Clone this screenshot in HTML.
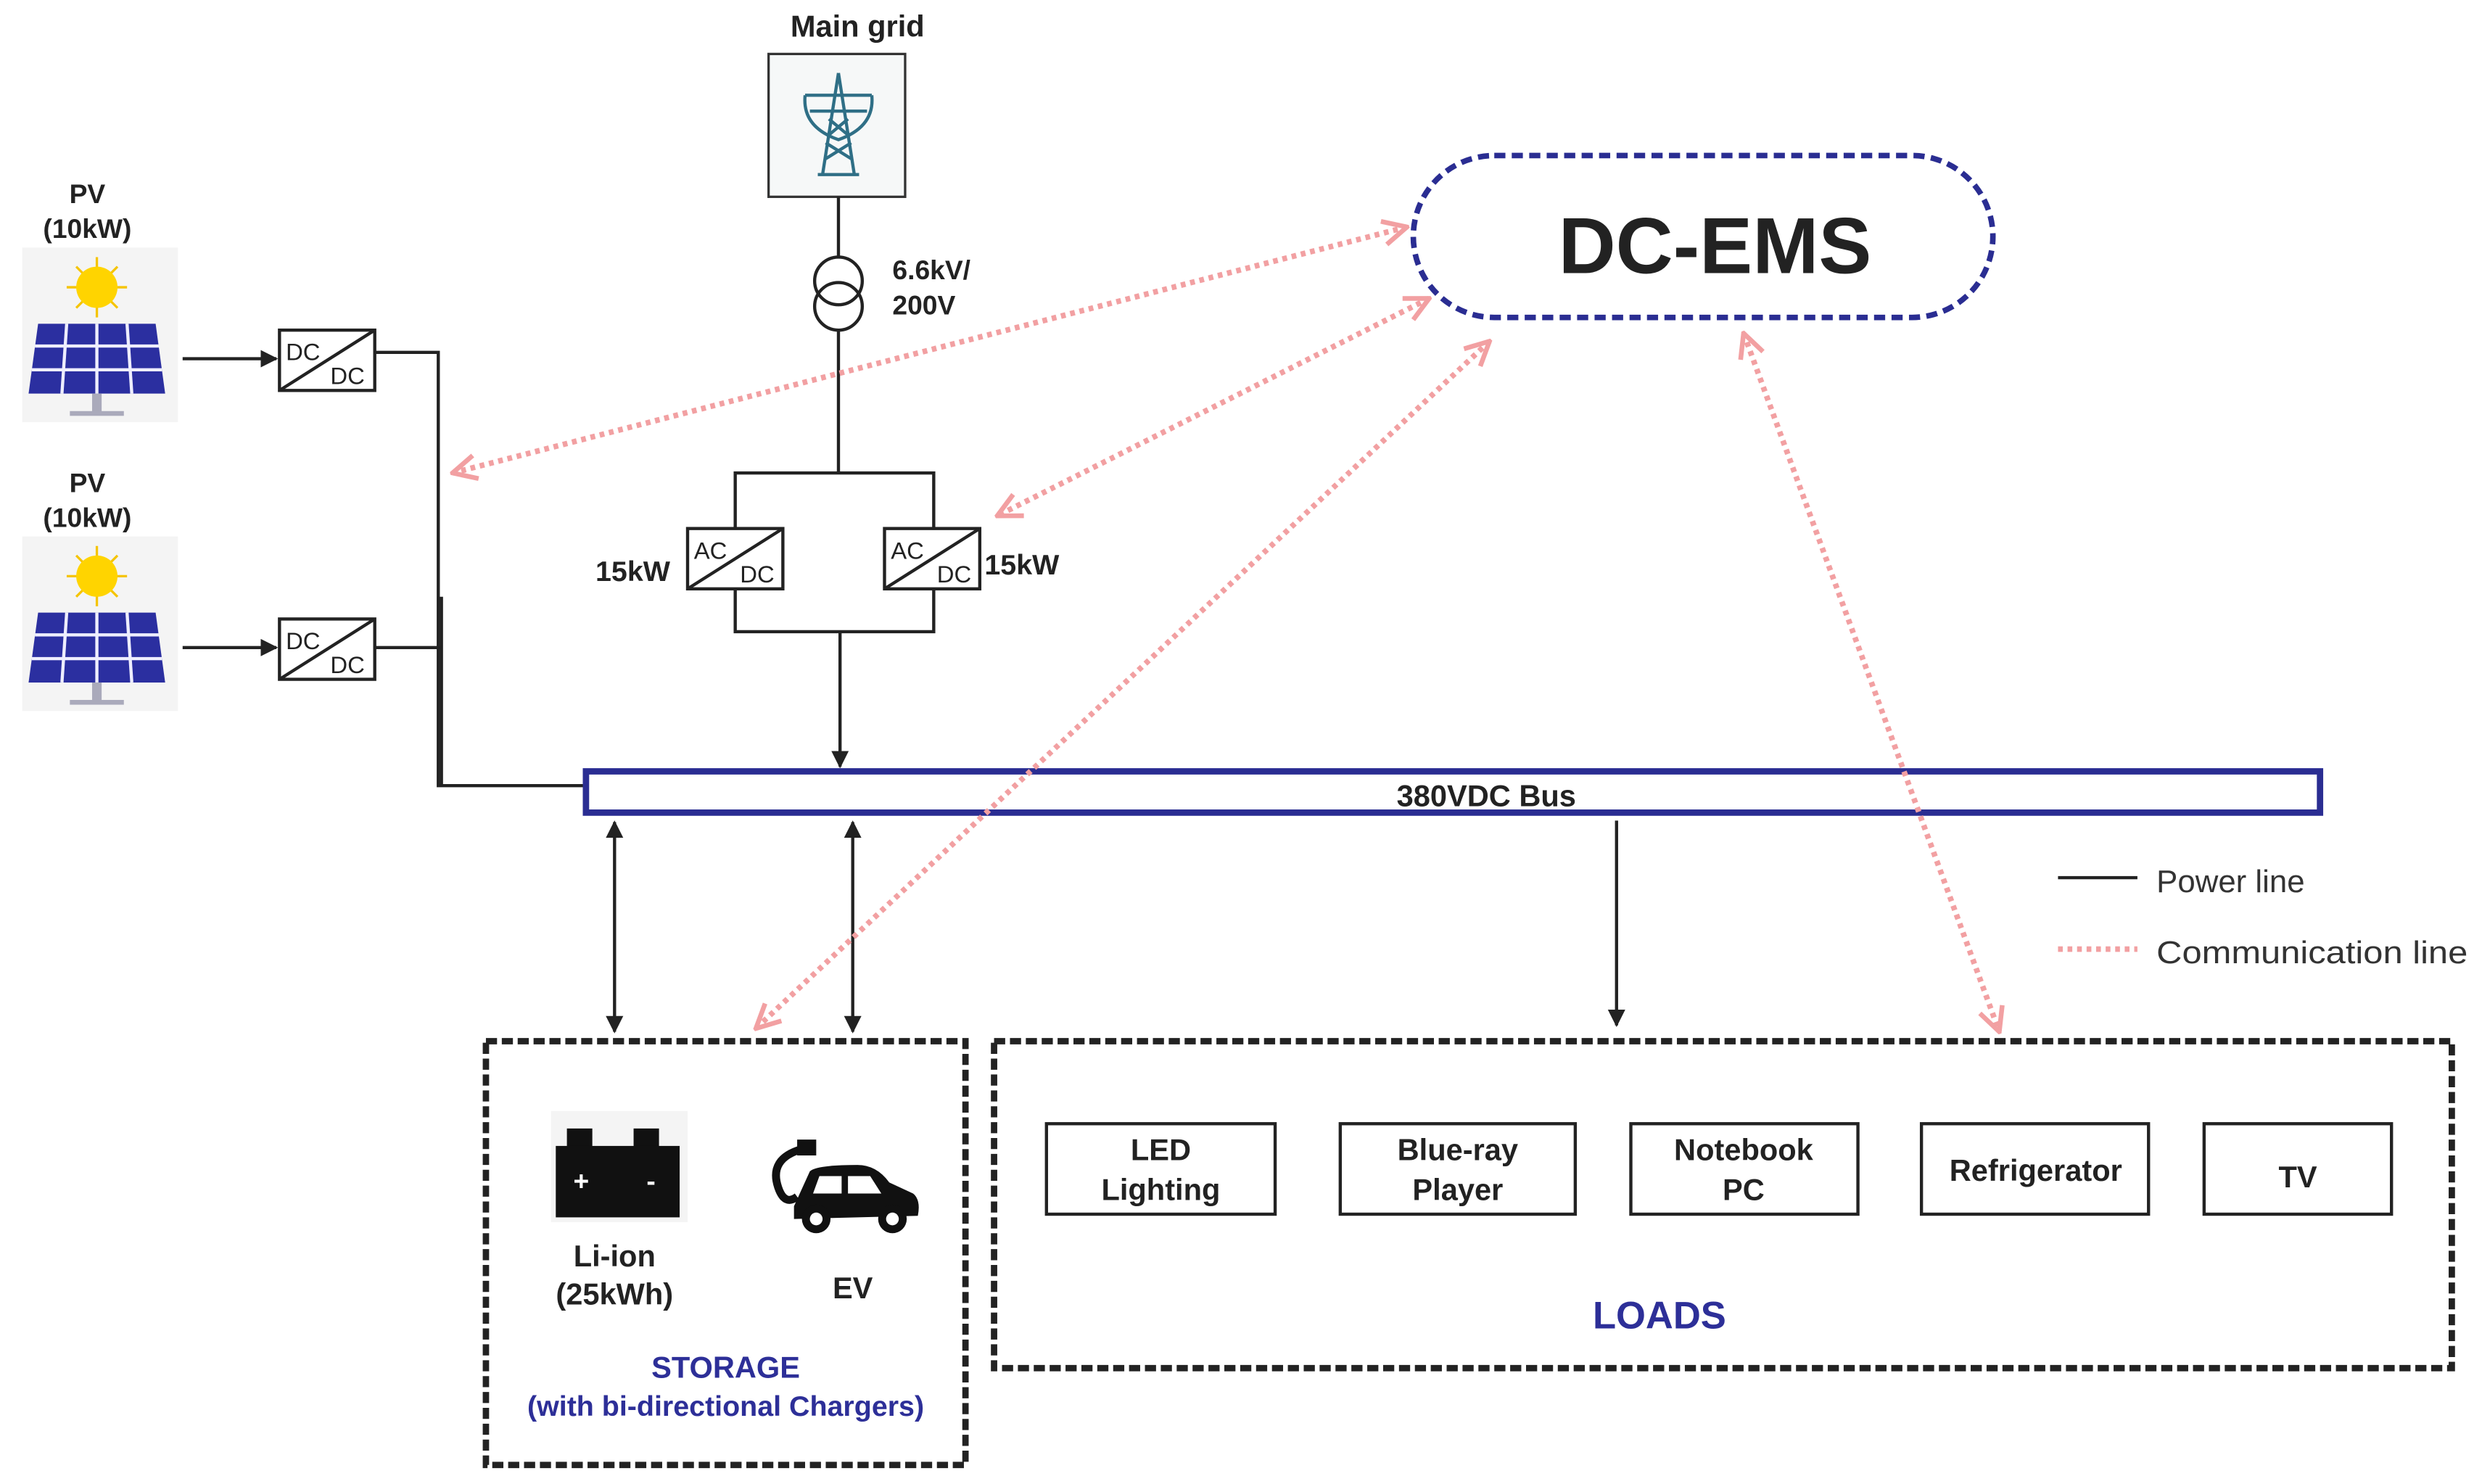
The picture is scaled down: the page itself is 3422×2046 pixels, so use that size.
<!DOCTYPE html>
<html><head><meta charset="utf-8"><style>
html,body{margin:0;padding:0;background:#fff;}
svg{display:block;}
text{font-family:"Liberation Sans",Arial,sans-serif;}
</style></head><body>
<svg width="3422" height="2046" viewBox="0 0 1563 935" preserveAspectRatio="none" xmlns="http://www.w3.org/2000/svg">
<defs>
<marker id="ar" viewBox="0 0 10 10" refX="9" refY="5" markerWidth="11" markerHeight="11" orient="auto-start-reverse" markerUnits="userSpaceOnUse">
<path d="M0,0 L10,5 L0,10 z" fill="#222"/></marker>
<marker id="pk" viewBox="0 0 12 12" refX="11" refY="6" markerWidth="18" markerHeight="18" orient="auto-start-reverse" markerUnits="userSpaceOnUse">
<path d="M1,1 L11,6 L1,11" fill="none" stroke="#f2a0a2" stroke-width="2"/></marker>
<g id="pv">
<rect x="0" y="0" width="98" height="110" fill="#f4f4f4"/>
<g stroke="#f5c400" stroke-width="1.5">
<line x1="47" y1="6" x2="47" y2="44"/><line x1="28" y1="25" x2="66" y2="25"/>
<line x1="34" y1="12" x2="60" y2="38"/><line x1="60" y1="12" x2="34" y2="38"/>
</g>
<circle cx="47" cy="25" r="13" fill="#ffd400"/>
<path d="M10,48 L84,48 L90,92 L4,92 Z" fill="#2b2fa0"/>
<g stroke="#eef" stroke-width="2">
<line x1="8" y1="62" x2="86" y2="62"/><line x1="6" y1="77" x2="88" y2="77"/>
<line x1="28" y1="48" x2="25" y2="92"/><line x1="47" y1="48" x2="47" y2="92"/><line x1="66" y1="48" x2="69" y2="92"/>
</g>
<rect x="44" y="92" width="6" height="12" fill="#aab"/>
<rect x="30" y="103" width="34" height="3" fill="#aab"/>
</g>
<g id="conv">
<rect x="0" y="0" width="60" height="38" fill="#fff" stroke="#222" stroke-width="2"/>
<line x1="0" y1="38" x2="60" y2="0" stroke="#222" stroke-width="2"/>
</g>
</defs>

<text x="540" y="23" font-size="19" font-weight="bold" text-anchor="middle" fill="#222">Main grid</text>
<rect x="484" y="34" width="86" height="90" fill="#f6f8f8" stroke="#333" stroke-width="1.5"/>
<g stroke="#2f6f86" stroke-width="2" fill="none">
<path d="M528,46 L518,110 M528,46 L538,110 M515,110 L541,110"/>
<path d="M507,60 L549,60 M510,70 L546,70 M522,75 L534,85 M534,75 L522,85 M520,90 L536,100 M536,90 L520,100"/>
<path d="M507,60 Q505,80 528,88 Q551,80 549,60"/>
</g>
<line x1="528" y1="124" x2="528" y2="162" stroke="#222" stroke-width="2"/>
<circle cx="528" cy="177" r="15" fill="none" stroke="#222" stroke-width="2"/>
<circle cx="528" cy="193" r="15" fill="none" stroke="#222" stroke-width="2"/>
<line x1="528" y1="208" x2="528" y2="298" stroke="#222" stroke-width="2"/>
<text x="562" y="176" font-size="17" font-weight="bold" fill="#222">6.6kV/</text>
<text x="562" y="198" font-size="17" font-weight="bold" fill="#222">200V</text>
<rect x="463" y="298" width="125" height="100" fill="none" stroke="#222" stroke-width="2"/>
<use href="#conv" x="433" y="333"/>
<use href="#conv" x="557" y="333"/>
<text x="437" y="352" font-size="15" fill="#222">AC</text><text x="466" y="367" font-size="15" fill="#222">DC</text>
<text x="561" y="352" font-size="15" fill="#222">AC</text><text x="590" y="367" font-size="15" fill="#222">DC</text>
<text x="375" y="366" font-size="18" font-weight="bold" fill="#222">15kW</text>
<text x="620" y="362" font-size="18" font-weight="bold" fill="#222">15kW</text>
<line x1="529" y1="398" x2="529" y2="483" stroke="#222" stroke-width="2" marker-end="url(#ar)"/>

<text x="55" y="128" font-size="17" font-weight="bold" text-anchor="middle" fill="#222">PV</text>
<text x="55" y="150" font-size="17" font-weight="bold" text-anchor="middle" fill="#222">(10kW)</text>
<use href="#pv" x="14" y="156"/>
<text x="55" y="310" font-size="17" font-weight="bold" text-anchor="middle" fill="#222">PV</text>
<text x="55" y="332" font-size="17" font-weight="bold" text-anchor="middle" fill="#222">(10kW)</text>
<use href="#pv" x="14" y="338"/>
<line x1="115" y1="226" x2="174" y2="226" stroke="#222" stroke-width="2" marker-end="url(#ar)"/>
<line x1="115" y1="408" x2="174" y2="408" stroke="#222" stroke-width="2" marker-end="url(#ar)"/>
<use href="#conv" x="176" y="208"/>
<use href="#conv" x="176" y="390"/>
<text x="180" y="227" font-size="15" fill="#222">DC</text><text x="208" y="242" font-size="15" fill="#222">DC</text>
<text x="180" y="409" font-size="15" fill="#222">DC</text><text x="208" y="424" font-size="15" fill="#222">DC</text>
<polyline points="236,222 276,222 276,495 368,495" fill="none" stroke="#222" stroke-width="2"/>
<line x1="236" y1="408" x2="278" y2="408" stroke="#222" stroke-width="2"/>
<line x1="278" y1="376" x2="278" y2="495" stroke="#222" stroke-width="2"/>

<rect x="369" y="486" width="1092" height="26" fill="#fff" stroke="#2a2d92" stroke-width="4"/>
<text x="936" y="508" font-size="19" font-weight="bold" text-anchor="middle" fill="#222">380VDC Bus</text>

<line x1="387" y1="518" x2="387" y2="650" stroke="#222" stroke-width="2" marker-start="url(#ar)" marker-end="url(#ar)"/>
<line x1="537" y1="518" x2="537" y2="650" stroke="#222" stroke-width="2" marker-start="url(#ar)" marker-end="url(#ar)"/>
<line x1="1018" y1="517" x2="1018" y2="646" stroke="#222" stroke-width="2" marker-end="url(#ar)"/>

<rect x="890" y="98" width="365" height="102" rx="51" ry="51" fill="#fff" stroke="#2a2d92" stroke-width="3.5" stroke-dasharray="7,4"/>
<text x="1080" y="172" font-size="50" font-weight="bold" text-anchor="middle" fill="#222">DC-EMS</text>

<g stroke="#f2a0a2" stroke-width="3.5" stroke-dasharray="3,3" fill="none">
<line x1="886" y1="143" x2="285" y2="298" marker-start="url(#pk)" marker-end="url(#pk)"/>
<line x1="900" y1="188" x2="628" y2="325" marker-start="url(#pk)" marker-end="url(#pk)"/>
<line x1="938" y1="215" x2="476" y2="648" marker-start="url(#pk)" marker-end="url(#pk)"/>
<line x1="1098" y1="210" x2="1259" y2="650" marker-start="url(#pk)" marker-end="url(#pk)"/>
</g>

<rect x="306" y="656" width="302" height="267" fill="none" stroke="#222" stroke-width="4" stroke-dasharray="7,3"/>
<rect x="347" y="700" width="86" height="70" fill="#f4f4f4"/>
<rect x="357" y="711" width="16" height="12" fill="#111"/><rect x="399" y="711" width="16" height="12" fill="#111"/>
<rect x="350" y="722" width="78" height="45" fill="#111"/>
<text x="366" y="750" font-size="17" font-weight="bold" fill="#fff" text-anchor="middle">+</text>
<text x="410" y="750" font-size="17" font-weight="bold" fill="#fff" text-anchor="middle">-</text>
<path d="M505,724 Q484,730 490,748 Q494,760 502,754" fill="none" stroke="#111" stroke-width="5"/>
<rect x="502" y="718" width="12" height="10" fill="#111"/>
<path d="M500,760 L510,738 Q514,734 540,734 Q552,734 560,745 L575,752 Q580,756 578,766 L500,768 Z" fill="#111"/>
<path d="M516,741 L530,741 L530,752 L512,752 Z M534,741 L548,741 L555,752 L534,752 Z" fill="#fff"/>
<circle cx="514" cy="768" r="9" fill="#111"/><circle cx="514" cy="768" r="4" fill="#fff"/>
<circle cx="562" cy="768" r="9" fill="#111"/><circle cx="562" cy="768" r="4" fill="#fff"/>
<text x="387" y="798" font-size="19" font-weight="bold" text-anchor="middle" fill="#222">Li-ion</text>
<text x="387" y="822" font-size="19" font-weight="bold" text-anchor="middle" fill="#222">(25kWh)</text>
<text x="537" y="818" font-size="19" font-weight="bold" text-anchor="middle" fill="#222">EV</text>
<text x="457" y="868" font-size="19" font-weight="bold" text-anchor="middle" fill="#2d2f98">STORAGE</text>
<text x="457" y="892" font-size="18" font-weight="bold" text-anchor="middle" fill="#2d2f98">(with bi-directional Chargers)</text>

<rect x="626" y="656" width="918" height="206" fill="none" stroke="#222" stroke-width="4" stroke-dasharray="7,3"/>
<g fill="#fff" stroke="#222" stroke-width="2">
<rect x="659" y="708" width="144" height="57"/>
<rect x="844" y="708" width="148" height="57"/>
<rect x="1027" y="708" width="143" height="57"/>
<rect x="1210" y="708" width="143" height="57"/>
<rect x="1388" y="708" width="118" height="57"/>
</g>
<g font-size="19" font-weight="bold" text-anchor="middle" fill="#222">
<text x="731" y="731">LED</text><text x="731" y="756">Lighting</text>
<text x="918" y="731">Blue-ray</text><text x="918" y="756">Player</text>
<text x="1098" y="731">Notebook</text><text x="1098" y="756">PC</text>
<text x="1282" y="744">Refrigerator</text>
<text x="1447" y="748">TV</text>
</g>
<text x="1045" y="837" font-size="24" font-weight="bold" text-anchor="middle" fill="#2d2f98">LOADS</text>

<line x1="1296" y1="553" x2="1346" y2="553" stroke="#222" stroke-width="2"/>
<text x="1358" y="562" font-size="20" fill="#333">Power line</text>
<line x1="1296" y1="598" x2="1346" y2="598" stroke="#f2a0a2" stroke-width="3.5" stroke-dasharray="3,3"/>
<text x="1358" y="607" font-size="20" fill="#333" textLength="196" lengthAdjust="spacingAndGlyphs">Communication line</text>
</svg>
</body></html>
